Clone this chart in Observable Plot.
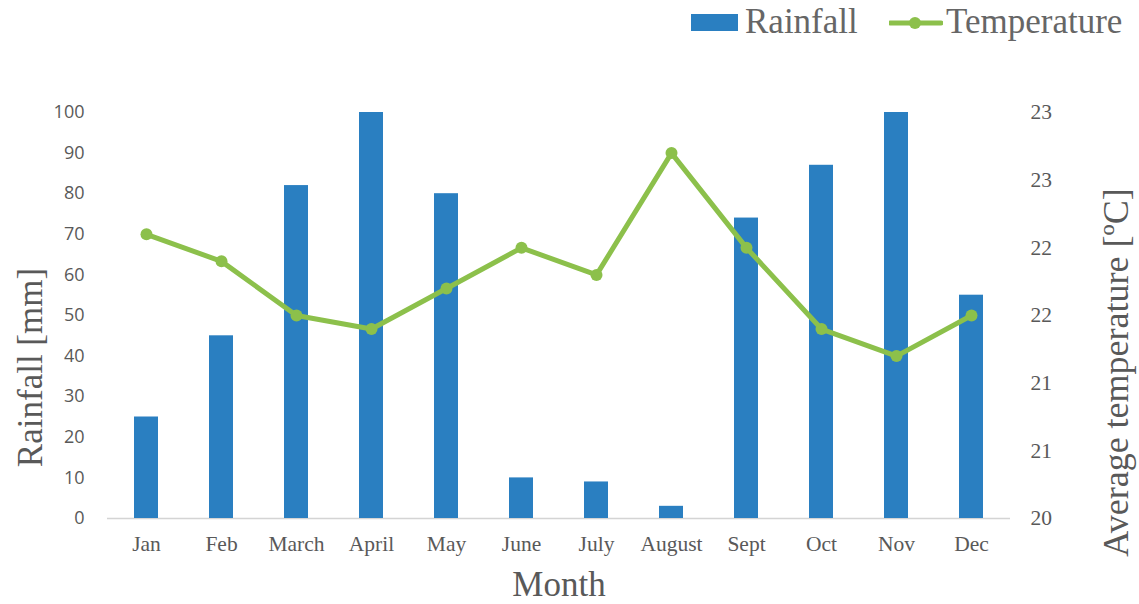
<!DOCTYPE html>
<html><head><meta charset="utf-8">
<script src="https://cdn.jsdelivr.net/npm/d3@7"></script>
<script src="https://cdn.jsdelivr.net/npm/@observablehq/plot@0.6"></script>
<style>
body{margin:0;background:#fff;}
#wrap{position:relative;width:1139px;height:604px;}
#legend{position:absolute;top:0;left:0;width:1139px;height:50px;font-family:"Liberation Serif","Times New Roman",serif;color:#666;font-size:35px;line-height:40px;}
#legend .item{position:absolute;top:2px;display:flex;align-items:center;}
</style>
</head><body>
<div id="wrap"><div id="chart"></div>
<div id="legend">
 <div class="item" style="left:691px"><svg width="48" height="20"><rect x="0" y="2" width="47" height="17" fill="#2a7fc1"/></svg><span style="margin-left:6px">Rainfall</span></div>
 <div class="item" style="left:889px"><svg width="54" height="20"><line x1="1" y1="11" x2="52" y2="11" stroke="#8cc04b" stroke-width="5" stroke-linecap="round"/><circle cx="26" cy="11" r="6" fill="#8cc04b"/></svg><span style="margin-left:3px">Temperature</span></div>
</div></div>
<script>
const months = ["Jan","Feb","March","April","May","June","July","August","Sept","Oct","Nov","Dec"];
const rainfall = [25,45,82,100,80,10,9,3,74,87,100,55];
const temperature = [22.1,21.9,21.5,21.4,21.7,22.0,21.8,22.7,22.0,21.4,21.2,21.5];
const leftTicks = [0,10,20,30,40,50,60,70,80,90,100];
const rightTicks = [20,20.5,21,21.5,22,22.5,23];
const tMin = 20, tMax = 23;
const toY = t => (t - tMin) / (tMax - tMin) * 100;

const data = months.map((m,i)=>({month:m, rain:rainfall[i], temp:temperature[i], ty:toY(temperature[i])}));

const chart = Plot.plot({
  width:1139, height:604,
  marginTop:112, marginBottom:86, marginLeft:107, marginRight:129,
  style:{background:"#fff", fontFamily:"Liberation Serif, serif"},
  x:{domain:months, paddingInner:0.68, paddingOuter:0.34, label:null},
  y:{domain:[0,100], label:null},
  marks:[
    Plot.ruleY([0],{stroke:"#d4d4d4", strokeWidth:1.5}),
    Plot.barY(data,{x:"month", y:"rain", fill:"#2a7fc1"}),
    Plot.line(data,{x:"month", y:"ty", stroke:"#8cc04b", strokeWidth:5, curve:"linear"}),
    Plot.dot(data,{x:"month", y:"ty", r:6, fill:"#8cc04b"}),
    Plot.axisX({tickSize:0, tickPadding:17, fontSize:21.5, fill:"#595959", fontFamily:"Liberation Serif, serif", label:null}),
    Plot.axisY({ticks:leftTicks, anchor:"left", tickSize:0, tickPadding:23, fontSize:18, fill:"#595959", fontFamily:"Open Sans, sans-serif", label:null}),
    Plot.axisY({ticks:rightTicks.map(toY), anchor:"right", tickSize:0, tickPadding:20, fontSize:21.5, fill:"#595959", fontFamily:"Liberation Serif, serif", tickFormat:v=>(v/100*(tMax-tMin)+tMin).toFixed(0), label:null}),
    Plot.text(["Rainfall [mm]"],{frameAnchor:"left", textAnchor:"middle", dx:-77, dy:52, rotate:-90, fontSize:35, fill:"#595959", fontFamily:"Liberation Serif, serif"}),
    Plot.text(["Average temperature [ºC]"],{frameAnchor:"right", textAnchor:"middle", dx:106, dy:57, rotate:-90, fontSize:36, fill:"#595959", fontFamily:"Liberation Serif, serif"}),
    Plot.text(["Month"],{frameAnchor:"bottom", dy:77, dx:0, fontSize:35, fill:"#595959", fontFamily:"Liberation Serif, serif"})
  ]
});
document.getElementById("chart").appendChild(chart);
</script>
</body></html>
